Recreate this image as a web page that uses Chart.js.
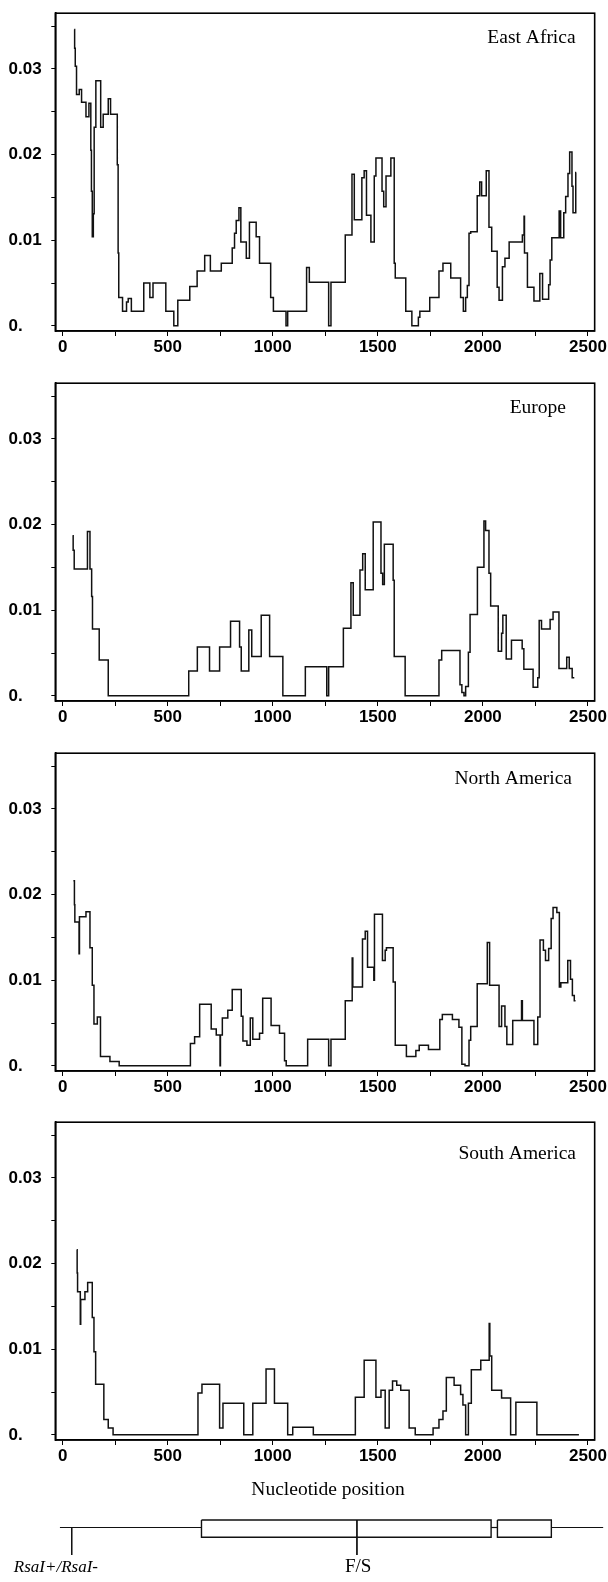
<!DOCTYPE html>
<html>
<head>
<meta charset="utf-8">
<script src="https://cdn.jsdelivr.net/npm/chart.js@4.4.1/dist/chart.umd.min.js"></script>
<style>
html,body{margin:0;padding:0;background:#fff;}
body{width:608px;height:1582px;position:relative;overflow:hidden;}
canvas{position:absolute;left:0;}
#xtitle{position:absolute;left:228px;width:200px;top:1477px;text-align:center;font:19.5px 'Liberation Serif','DejaVu Serif',serif;color:#000;line-height:24px;}
</style>
</head>
<body>
<canvas id="c0" width="608" height="370" style="top:0px"></canvas>
<canvas id="c1" width="608" height="370" style="top:370px"></canvas>
<canvas id="c2" width="608" height="370" style="top:739.5px"></canvas>
<canvas id="c3" width="608" height="370" style="top:1108.5px"></canvas>
<div id="xtitle">Nucleotide position</div>
<canvas id="gene" width="608" height="82" style="top:1500px"></canvas>
<script>
// ---------------- data ----------------
const regionNames = ['East Africa', 'Europe', 'North America', 'South America'];

const eastAfricaPos = [55,57,60,66,79,90,111,125,134,137,141,146,150,158,181,193,217,228,260,264,267,285,304,312,327,386,415,430,491,529,548,605,640,676,703,755,807,818,826,839,848,874,889,921,937,990,1003,1063,1071,1161,1174,1266,1277,1345,1377,1388,1424,1435,1446,1467,1483,1491,1520,1528,1539,1562,1578,1583,1633,1662,1693,1700,1747,1791,1810,1847,1894,1907,1918,1926,1934,1942,1973,1985,1994,2016,2029,2042,2068,2077,2093,2105,2125,2188,2196,2198,2212,2243,2271,2284,2313,2320,2328,2363,2370,2385,2394,2405,2413,2424,2429,2442];
const eastAfricaVal = [0.0346,0.0324,0.0303,0.0270,0.0276,0.0261,0.0244,0.0260,0.0205,0.0157,0.0104,0.0131,0.0232,0.0286,0.0232,0.0247,0.0265,0.0247,0.0188,0.0085,0.0033,0.0017,0.0028,0.0032,0.0017,0.0050,0.0033,0.0050,0.0017,0,0.0030,0.0046,0.0064,0.0082,0.0064,0.0073,0.0091,0.0108,0.0123,0.0138,0.0098,0.0079,0.0121,0.0104,0.0073,0.0033,0.0017,0,0.0017,0.0068,0.0051,0,0.0051,0.0106,0.0177,0.0124,0.0173,0.0181,0.0129,0.0098,0.0175,0.0196,0.0157,0.0139,0.0175,0.0196,0.0073,0.0056,0.0017,0,0.0010,0.0017,0.0033,0.0064,0.0073,0.0056,0.0033,0.0017,0.0033,0.0047,0.0108,0.0110,0.0152,0.0168,0.0152,0.0181,0.0115,0.0087,0.0045,0.0030,0.0069,0.0079,0.0098,0.0106,0.0128,0.0085,0.0045,0.0029,0.0061,0.0031,0.0048,0.0077,0.0103,0.0134,0.0103,0.0132,0.0151,0.0178,0.0203,0.0163,0.0132,0.0179];
const eastAfricaEnd = 2444;

const europePos = [47,50,55,118,130,138,142,174,217,600,641,699,747,799,842,850,886,900,945,985,1048,1155,1257,1266,1336,1372,1383,1415,1428,1440,1478,1515,1523,1531,1573,1578,1630,1791,1804,1891,1900,1910,1918,1931,1939,1974,2005,2013,2029,2037,2073,2089,2095,2111,2136,2187,2195,2239,2261,2268,2279,2320,2334,2362,2399,2411,2425];
const europeVal = [0.0187,0.0170,0.0148,0.0192,0.0148,0.0116,0.0078,0.0042,0,0.0029,0.0057,0.0029,0.0057,0.0087,0.0057,0.0029,0.0077,0.0046,0.0094,0.0046,0,0.0034,0,0.0034,0.0079,0.0132,0.0094,0.0147,0.0166,0.0124,0.0203,0.0143,0.0130,0.0177,0.0135,0.0046,0,0.0042,0.0053,0.0013,0.0004,0,0.0011,0.0051,0.0095,0.0150,0.0204,0.0193,0.0143,0.0105,0.0052,0.0073,0.0094,0.0043,0.0065,0.0055,0.0031,0.0010,0.0021,0.0088,0.0078,0.0089,0.0098,0.0032,0.0045,0.0032,0.0021];
const europeEnd = 2435;

const northAmericaPos = [51,56,58,78,80,111,130,141,149,165,180,225,269,608,628,652,707,731,749,751,760,786,807,850,858,877,893,905,937,952,992,1032,1056,1064,1166,1266,1277,1345,1378,1381,1427,1440,1451,1481,1484,1522,1535,1541,1573,1583,1636,1681,1697,1741,1795,1807,1855,1886,1900,1915,1934,1942,1973,2021,2032,2077,2089,2105,2114,2142,2184,2188,2243,2261,2272,2288,2298,2313,2325,2334,2352,2364,2371,2404,2417,2426,2435];
const northAmericaVal = [0.0216,0.0188,0.0168,0.0131,0.0174,0.0180,0.0138,0.0094,0.0049,0.0057,0.0011,0.0005,0,0.0026,0.0034,0.0072,0.0043,0.0036,0,0.0036,0.0056,0.0065,0.0089,0.0058,0.0029,0.0024,0.0056,0.0031,0.0038,0.0079,0.0047,0.0038,0.0006,0,0.0031,0,0.0031,0.0076,0.0126,0.0092,0.0148,0.0157,0.0115,0.0100,0.0177,0.0123,0.0135,0.0138,0.0098,0.0024,0.0011,0.0018,0.0024,0.0019,0.0054,0.0060,0.0054,0.0045,0.0002,0,0.0030,0.0046,0.0096,0.0144,0.0094,0.0046,0.0070,0.0046,0.0025,0.0053,0.0076,0.0053,0.0025,0.0057,0.0147,0.0135,0.0123,0.0137,0.0172,0.0185,0.0179,0.0092,0.0097,0.0123,0.0101,0.0082,0.0076];
const northAmericaEnd = 2441;

const southAmericaPos = [67,69,71,84,86,106,119,141,149,157,196,217,240,644,663,747,763,862,905,968,1008,1071,1095,1193,1393,1435,1491,1515,1535,1554,1570,1590,1609,1649,1678,1763,1791,1810,1826,1863,1894,1905,1918,1931,1945,1990,2030,2033,2042,2089,2132,2157,2257];
const southAmericaVal = [0.0216,0.0189,0.0167,0.0129,0.0158,0.0167,0.0178,0.0137,0.0097,0.0059,0.0018,0.0008,0,0.0049,0.0059,0.0008,0.0037,0,0.0037,0.0077,0.0037,0,0.0009,0,0.0044,0.0087,0.0044,0.0052,0.0008,0.0052,0.0063,0.0058,0.0052,0.0008,0,0.0008,0.0018,0.0028,0.0067,0.0058,0.0047,0.0035,0,0.0037,0.0076,0.0087,0.0130,0.0092,0.0052,0.0043,0,0.0038,0];
const southAmericaEnd = 2457;

const yMajorTicks = [0, 0.01, 0.02, 0.03];
const yTickLabels = ['0.', '0.01', '0.02', '0.03'];
const yMinorTicks = [0.005, 0.015, 0.025, 0.035];
const xMajorTicks = [0, 500, 1000, 1500, 2000, 2500];
const xTickLabels = ['0', '500', '1000', '1500', '2000', '2500'];
const xMinorTicks = [250, 750, 1250, 1750, 2250];

// gene map (nucleotide positions)
const geneExtent = [-13, 2566];
const geneBoxes = [[659, 2034], [2064, 2320]];
const markerPos = [43, 1397];
const markerLabels = ['RsaI+/RsaI-', 'F/S'];
const markerLabelPos = [-32, 1403];

// ---------------- layout / style ----------------
const X_MIN = -35, X_MAX = 2532, Y_MIN = -0.0006, Y_MAX = 0.0365;
const AREA_LEFT = 55.3, AREA_RIGHT = 596, AREA_TOP = 7.7, AREA_BOTTOM = 331, CANVAS_H = 370, LABEL_LEFT = 8.5;
const TICK_FONT = {family: "'Liberation Sans',Arial,Helvetica,sans-serif", size: 17, weight: 'bold'};
const SERIF = "'Liberation Serif','DejaVu Serif','Times New Roman',serif";
const regionLabelRight = [575.6, 566, 572, 576];
const regionLabelBase = [43.3, 43, 43.5, 49.5];

const seriesPos = [eastAfricaPos, europePos, northAmericaPos, southAmericaPos];
const seriesVal = [eastAfricaVal, europeVal, northAmericaVal, southAmericaVal];
const seriesEnd = [eastAfricaEnd, europeEnd, northAmericaEnd, southAmericaEnd];

function stepPoints(pos, val, end) {
  const n = Math.min(pos.length, val.length);
  const pts = [];
  for (let i = 0; i < n; i++) pts.push({x: pos[i], y: val[i]});
  pts.push({x: end, y: val[n - 1]});
  return pts;
}

const framePlugin = {
  id: 'frameLabel',
  afterDraw(chart, args, opts) {
    const ctx = chart.ctx, a = chart.chartArea;
    ctx.save();
    ctx.strokeStyle = '#000';
    ctx.lineWidth = 1.6;
    ctx.strokeRect(a.left, a.top, a.right - a.left, a.bottom - a.top);
    if (opts && opts.text) {
      ctx.fillStyle = '#000';
      ctx.font = '19.5px ' + SERIF;
      ctx.textAlign = 'right';
      ctx.textBaseline = 'alphabetic';
      ctx.fillText(opts.text, opts.right, opts.base);
    }
    ctx.restore();
  }
};

function approxIndex(arr, v) {
  for (let i = 0; i < arr.length; i++) if (Math.abs(arr[i] - v) < 1e-9) return i;
  return -1;
}

function makePanel(k) {
  const yAll = yMajorTicks.concat(yMinorTicks).sort((a, b) => a - b);
  const xAll = xMajorTicks.concat(xMinorTicks).sort((a, b) => a - b);
  new Chart(document.getElementById('c' + k), {
    type: 'line',
    data: {
      datasets: [{
        data: stepPoints(seriesPos[k], seriesVal[k], seriesEnd[k]),
        stepped: 'before',
        borderColor: '#111',
        borderWidth: 1.5,
        pointRadius: 0,
        fill: false,
        tension: 0
      }]
    },
    options: {
      responsive: false,
      animation: false,
      devicePixelRatio: 1,
      layout: {padding: {left: LABEL_LEFT, right: 608 - AREA_RIGHT, top: AREA_TOP, bottom: 0}},
      plugins: {
        legend: {display: false},
        tooltip: {enabled: false},
        frameLabel: {text: regionNames[k], right: regionLabelRight[k], base: regionLabelBase[k]}
      },
      scales: {
        x: {
          type: 'linear',
          min: X_MIN, max: X_MAX,
          afterBuildTicks: s => { s.ticks = xAll.map(v => ({value: v})); },
          afterFit: s => { s.height = CANVAS_H - AREA_BOTTOM; },
          grid: {drawOnChartArea: false, drawTicks: true, tickLength: 5, color: '#000', lineWidth: 1},
          border: {display: true, color: '#000', width: 1.6},
          ticks: {
            autoSkip: false, maxRotation: 0, padding: 1, color: '#000', font: TICK_FONT,
            callback: v => { const i = approxIndex(xMajorTicks, v); return i >= 0 ? xTickLabels[i] : ''; }
          }
        },
        y: {
          type: 'linear',
          min: Y_MIN, max: Y_MAX,
          afterBuildTicks: s => { s.ticks = yAll.map(v => ({value: v})); },
          afterFit: s => { s.width = AREA_LEFT - LABEL_LEFT; },
          grid: {drawOnChartArea: false, drawTicks: true, tickLength: 4, color: '#000', lineWidth: 1},
          border: {display: true, color: '#000', width: 1.6},
          ticks: {
            crossAlign: 'far', color: '#000', font: TICK_FONT,
            callback: v => { const i = approxIndex(yMajorTicks, v); return i >= 0 ? yTickLabels[i] : ''; }
          }
        }
      }
    },
    plugins: [framePlugin]
  });
}
for (let k = 0; k < 4; k++) makePanel(k);

// ---------------- gene map ----------------
const PX_PER_NT = (AREA_RIGHT - AREA_LEFT) / (X_MAX - X_MIN);
const GENE_MIN = X_MIN - AREA_LEFT / PX_PER_NT;
const GENE_MAX = X_MAX + (608 - AREA_RIGHT) / PX_PER_NT;
const G = {line: 27.5, boxTop: 20, boxBottom: 37.3, tickBottom: 55, text: 67.5};

const geneDatasets = [];
const lineStyle = {borderColor: '#111', borderWidth: 1.2, pointRadius: 0, fill: false, tension: 0, clip: false};
geneDatasets.push(Object.assign({data: [{x: geneExtent[0], y: G.line}, {x: geneBoxes[0][0], y: G.line}]}, lineStyle));
for (let i = 0; i < geneBoxes.length - 1; i++) {
  geneDatasets.push(Object.assign({data: [{x: geneBoxes[i][1], y: G.line}, {x: geneBoxes[i + 1][0], y: G.line}]}, lineStyle));
}
geneDatasets.push(Object.assign({data: [{x: geneBoxes[geneBoxes.length - 1][1], y: G.line}, {x: geneExtent[1], y: G.line}]}, lineStyle));
geneBoxes.forEach(b => {
  geneDatasets.push(Object.assign({}, lineStyle, {borderWidth: 1.4, data: [
    {x: b[0], y: G.boxTop}, {x: b[1], y: G.boxTop}, {x: b[1], y: G.boxBottom}, {x: b[0], y: G.boxBottom}, {x: b[0], y: G.boxTop}
  ]}));
});
markerPos.forEach((p, i) => {
  const inBox = geneBoxes.some(b => p >= b[0] && p <= b[1]);
  geneDatasets.push(Object.assign({}, lineStyle, {borderWidth: 1, data: [{x: p, y: inBox ? G.boxTop : G.line}, {x: p, y: G.tickBottom}]}));
});

const geneLabelPlugin = {
  id: 'geneLabels',
  afterDraw(chart) {
    const ctx = chart.ctx, xs = chart.scales.x, ys = chart.scales.y;
    ctx.save();
    ctx.fillStyle = '#000';
    ctx.textAlign = 'center';
    ctx.textBaseline = 'middle';
    markerLabels.forEach((t, i) => {
      ctx.font = (i === 0 ? 'italic 17px ' : '19px ') + SERIF;
      ctx.fillText(t, xs.getPixelForValue(markerLabelPos[i]), ys.getPixelForValue(G.text));
    });
    ctx.restore();
  }
};

new Chart(document.getElementById('gene'), {
  type: 'line',
  data: {datasets: geneDatasets},
  options: {
    responsive: false, animation: false, devicePixelRatio: 1,
    layout: {padding: 0},
    plugins: {legend: {display: false}, tooltip: {enabled: false}},
    scales: {
      x: {type: 'linear', min: GENE_MIN, max: GENE_MAX, display: false},
      y: {type: 'linear', min: 0, max: 82, reverse: true, display: false}
    }
  },
  plugins: [geneLabelPlugin]
});
</script>
</body>
</html>
